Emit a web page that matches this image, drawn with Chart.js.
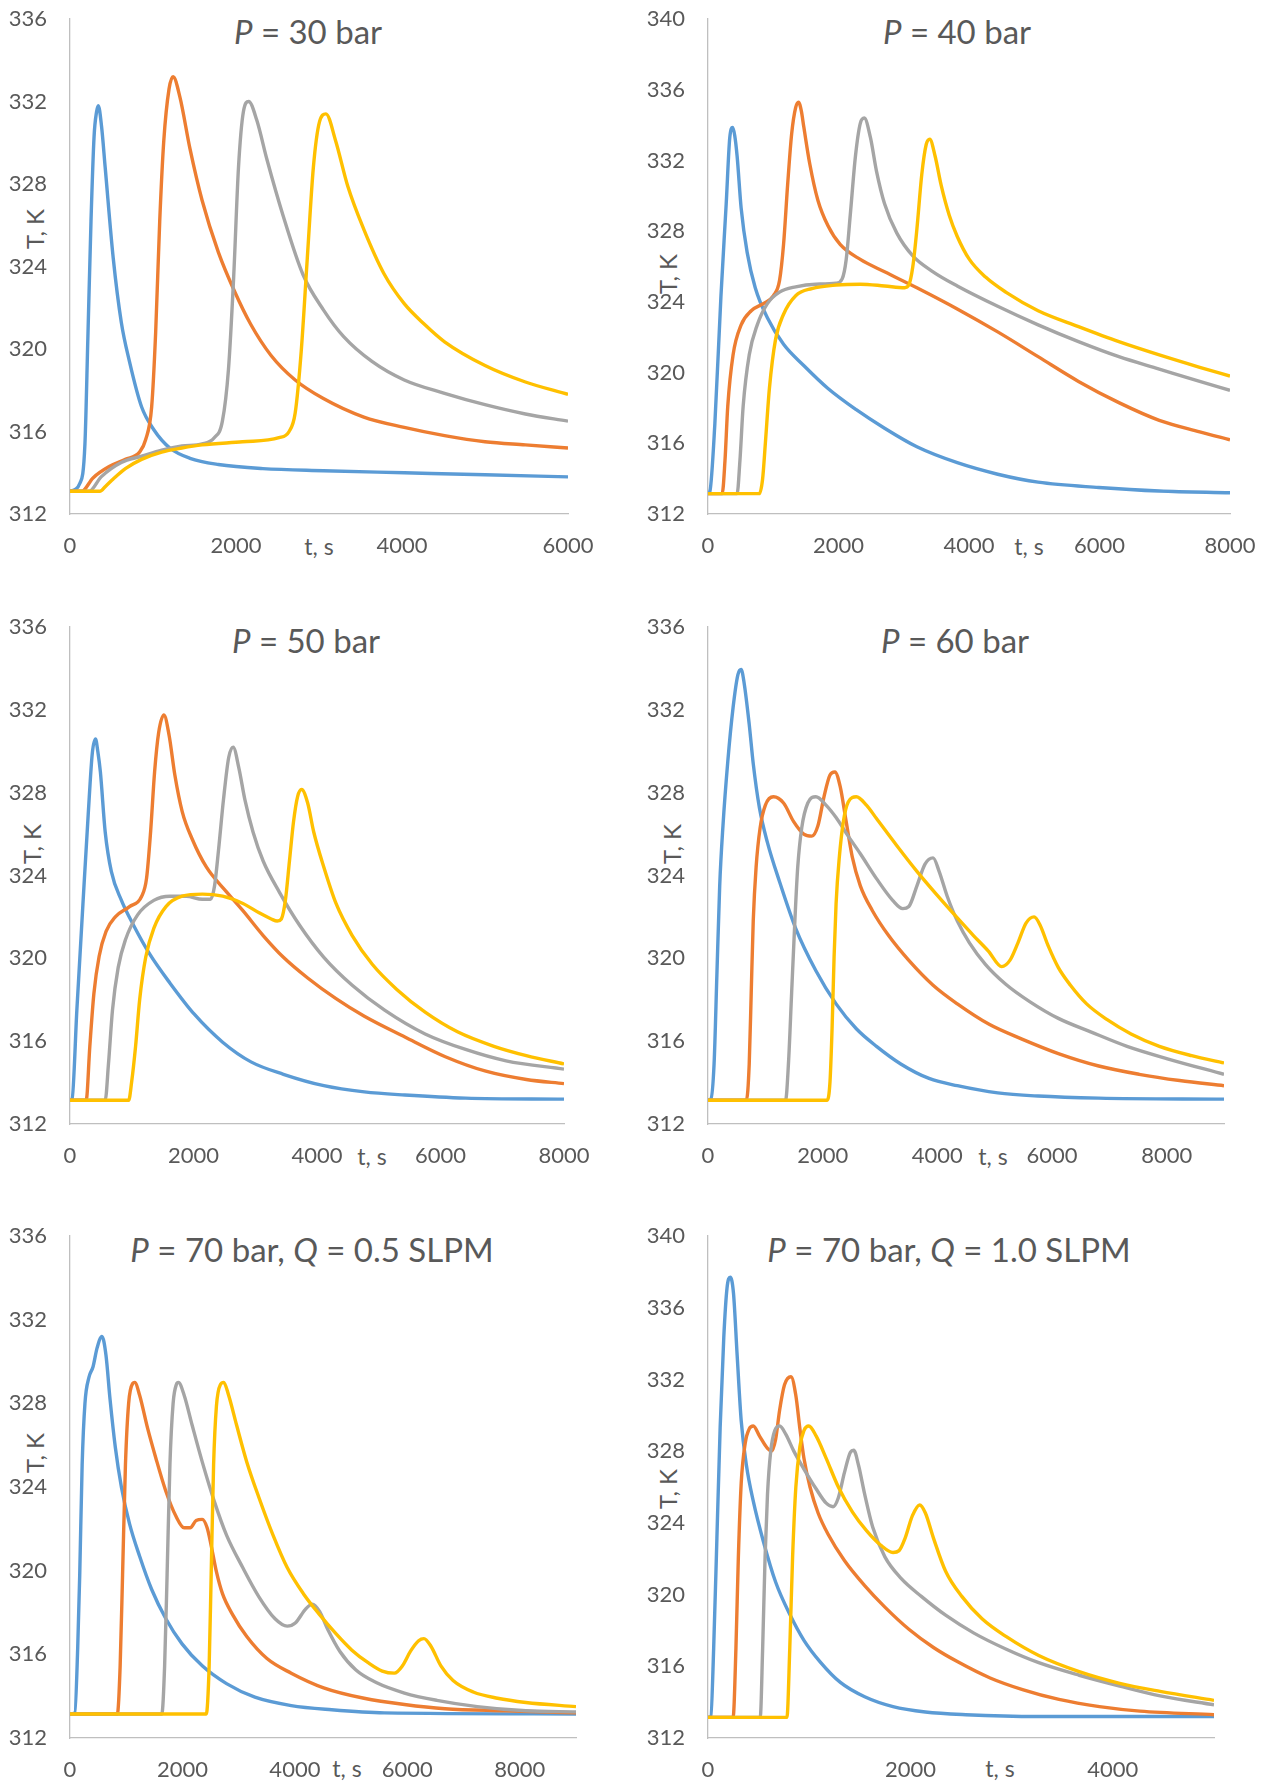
<!DOCTYPE html>
<html>
<head>
<meta charset="utf-8">
<script src="https://cdn.jsdelivr.net/npm/chart.js"></script>
<style>
  html, body { margin: 0; padding: 0; background: #fff; }
  body { width: 1268px; height: 1782px; position: relative; overflow: hidden;
         font-family: Lato, "Open Sans", sans-serif; color: #595959; }
  canvas { position: absolute; }
  .title { position: absolute; transform: translate(-50%, -50%); font-size: 33px; white-space: nowrap; }
  .xlab  { position: absolute; transform: translate(-50%, -50%); font-size: 23px; white-space: nowrap; }
  .ylab  { position: absolute; transform: translate(-50%, -50%) rotate(-90deg); font-size: 24px; white-space: nowrap; }
</style>
</head>
<body>

<div class="title" style="left:308px;top:31px"><i>P</i> = 30 bar</div>
<div class="title" style="left:957px;top:31px"><i>P</i> = 40 bar</div>
<div class="title" style="left:306px;top:640px"><i>P</i> = 50 bar</div>
<div class="title" style="left:955px;top:640px"><i>P</i> = 60 bar</div>
<div class="title" style="left:312px;top:1249px"><i>P</i> = 70 bar, <i>Q</i> = 0.5 SLPM</div>
<div class="title" style="left:949px;top:1249px"><i>P</i> = 70 bar, <i>Q</i> = 1.0 SLPM</div>

<div class="xlab" style="left:319px;top:546px">t, s</div>
<div class="xlab" style="left:1029px;top:546px">t, s</div>
<div class="xlab" style="left:372px;top:1156px">t, s</div>
<div class="xlab" style="left:993px;top:1156px">t, s</div>
<div class="xlab" style="left:347px;top:1768px">t, s</div>
<div class="xlab" style="left:1000px;top:1768px">t, s</div>

<div class="ylab" style="left:34px;top:229px">T, K</div>
<div class="ylab" style="left:667px;top:274px">T, K</div>
<div class="ylab" style="left:31px;top:844px">T, K</div>
<div class="ylab" style="left:671px;top:844px">T, K</div>
<div class="ylab" style="left:34px;top:1453px">T, K</div>
<div class="ylab" style="left:667px;top:1489px">T, K</div>

<script>
// Temperature histories, [time s, temperature K], four beds per pressure case.

// P = 30 bar
const p30Blue = [[0,313.1],[120,313.5],[180,315.4],[215,320.5],[253,326.2],[290,330.3],[320,331.5],[341,331.8],[380,330.8],[424,328.8],[521,324.4],[618,321.3],[716,319.4],[862,317.2],[1008,316.1],[1203,315.2],[1446,314.7],[1787,314.4],[2323,314.2],[3053,314.1],[4027,314.0],[5000,313.9],[6000,313.8]];
const p30Orange = [[0,313.1],[140,313.1],[277,313.75],[472,314.3],[667,314.65],[838,315.0],[911,315.6],[984,317.2],[1032,320.8],[1081,326.2],[1130,330.1],[1193,332.6],[1242,333.2],[1325,332.2],[1446,329.7],[1592,327.2],[1787,324.7],[1982,322.8],[2177,321.2],[2420,319.7],[2713,318.5],[3053,317.6],[3540,316.7],[4027,316.2],[4513,315.8],[5000,315.5],[5487,315.35],[6000,315.2]];
const p30Gray = [[0,313.1],[230,313.1],[375,313.8],[618,314.5],[862,314.8],[1105,315.1],[1349,315.3],[1592,315.4],[1738,315.7],[1836,316.5],[1909,319.0],[1972,323.5],[2030,328.8],[2089,331.5],[2153,332.0],[2250,331.1],[2372,329.2],[2565,326.5],[2808,323.6],[3053,321.9],[3297,320.6],[3638,319.4],[4027,318.5],[4513,317.85],[5000,317.3],[5487,316.85],[6000,316.5]];
const p30Yellow = [[0,313.1],[360,313.1],[430,313.35],[521,313.7],[667,314.2],[862,314.65],[1105,315.0],[1349,315.2],[1592,315.35],[2080,315.5],[2518,315.7],[2640,316.0],[2713,316.9],[2786,319.9],[2859,324.4],[2932,328.8],[3005,331.0],[3083,331.4],[3200,330.1],[3346,327.9],[3540,325.8],[3783,323.65],[4027,322.2],[4270,321.2],[4513,320.35],[5000,319.2],[5487,318.4],[6000,317.8]];

// P = 40 bar
const p40Blue = [[0,313.15],[30,313.3],[105,317.1],[198,324.3],[279,329.55],[334,333.3],[378,333.86],[410,333.4],[446,332.25],[508,329.3],[600,326.8],[724,324.8],[910,323.1],[1158,321.6],[1467,320.4],[1839,319.1],[2272,317.9],[2706,316.85],[3201,315.8],[3820,314.9],[4440,314.25],[5059,313.8],[5988,313.5],[6916,313.3],[8000,313.2]];
const p40Orange = [[0,313.15],[217,313.15],[260,315.0],[303,318.1],[384,321.0],[508,322.7],[663,323.5],[848,323.9],[1003,324.35],[1096,325.2],[1158,327.25],[1220,330.6],[1282,333.5],[1344,335.0],[1387,335.3],[1430,334.8],[1468,333.9],[1560,331.8],[1684,329.75],[1839,328.3],[2025,327.25],[2334,326.4],[2706,325.7],[3201,324.8],[3820,323.6],[4440,322.3],[5059,320.9],[5678,319.5],[6297,318.3],[6916,317.3],[7536,316.65],[8000,316.2]];
const p40Gray = [[0,313.15],[446,313.15],[489,315.0],[539,318.1],[632,321.0],[755,322.7],[910,323.9],[1096,324.55],[1344,324.85],[1653,325.0],[1963,325.05],[2056,325.3],[2118,326.4],[2180,328.9],[2260,332.25],[2334,334.1],[2396,334.4],[2489,333.3],[2582,331.4],[2706,329.55],[2892,327.9],[3139,326.6],[3449,325.7],[3820,324.9],[4440,323.75],[5059,322.7],[5678,321.75],[6297,320.9],[6916,320.2],[7536,319.5],[8000,319.0]];
const p40Yellow = [[0,313.15],[786,313.15],[836,313.95],[879,316.0],[941,319.1],[1034,321.85],[1158,323.3],[1344,324.35],[1591,324.75],[1963,324.95],[2334,325.0],[2706,324.9],[3015,324.8],[3077,324.95],[3139,326.0],[3201,328.1],[3276,331.2],[3344,332.9],[3399,333.2],[3480,332.25],[3573,330.6],[3697,328.9],[3820,327.7],[4006,326.4],[4254,325.4],[4563,324.55],[5059,323.5],[5678,322.6],[6297,321.75],[6916,321.0],[7536,320.3],[8000,319.8]];

// P = 50 bar
const p50Blue = [[0,313.15],[33,313.2],[111,317.5],[210,322.65],[295,326.95],[361,329.9],[413,330.6],[450,330.0],[492,329.0],[570,326.1],[669,324.2],[833,322.8],[1029,321.6],[1292,320.2],[1620,318.8],[2013,317.3],[2472,315.95],[2931,315.0],[3456,314.4],[4111,313.85],[4767,313.55],[5423,313.4],[6406,313.25],[8000,313.2]];
const p50Orange = [[0,313.15],[262,313.15],[321,315.75],[387,318.3],[472,320.1],[584,321.3],[734,322.0],[964,322.5],[1161,323.0],[1239,323.85],[1305,326.1],[1370,329.0],[1436,330.9],[1521,331.75],[1606,330.75],[1698,328.85],[1816,327.1],[1980,325.75],[2210,324.4],[2538,323.2],[2800,322.3],[3128,321.1],[3456,320.05],[3849,319.05],[4308,318.05],[4767,317.2],[5423,316.2],[6078,315.25],[6734,314.55],[7390,314.15],[8000,313.95]];
const p50Gray = [[0,313.15],[570,313.15],[623,314.9],[688,317.5],[780,319.55],[898,320.9],[1095,322.1],[1357,322.8],[1620,323.0],[1882,323.0],[2144,322.85],[2275,322.85],[2341,323.5],[2406,325.25],[2485,327.65],[2570,329.7],[2642,330.2],[2734,329.2],[2833,327.65],[2964,326.1],[3128,324.7],[3390,323.2],[3718,321.6],[4111,320.05],[4570,318.7],[5095,317.5],[5751,316.35],[6406,315.6],[7062,315.05],[8000,314.65]];
const p50Yellow = [[0,313.15],[951,313.15],[997,314.0],[1062,315.75],[1128,318.0],[1226,320.05],[1357,321.45],[1554,322.5],[1816,323.0],[2144,323.1],[2472,323.0],[2800,322.65],[3062,322.2],[3259,321.9],[3357,321.8],[3423,321.9],[3488,322.8],[3554,324.7],[3620,326.6],[3685,327.8],[3751,328.15],[3849,327.5],[3947,326.1],[4111,324.4],[4308,322.65],[4570,321.1],[4898,319.7],[5292,318.5],[5751,317.4],[6275,316.45],[6865,315.75],[7390,315.3],[8000,314.9]];

// P = 60 bar
const p60Blue = [[0,313.15],[49,313.2],[106,314.9],[155,319.2],[204,323.5],[261,326.4],[345,329.5],[437,332.1],[522,333.7],[578,333.95],[630,333.3],[719,331.3],[789,329.4],[895,327.3],[1036,325.6],[1248,323.7],[1529,321.45],[1882,319.4],[2234,317.8],[2587,316.6],[2939,315.75],[3362,314.9],[3855,314.2],[4349,313.85],[5054,313.5],[5758,313.35],[6815,313.25],[9000,313.2]];
const p60Orange = [[0,313.15],[670,313.15],[719,314.9],[754,318.35],[789,321.8],[839,324.4],[909,326.3],[1001,327.4],[1142,327.8],[1318,327.5],[1494,326.6],[1670,326.0],[1811,325.9],[1917,326.4],[2023,327.8],[2128,328.85],[2213,329.0],[2305,328.3],[2410,326.6],[2516,324.9],[2657,323.5],[2868,322.3],[3150,321.1],[3503,319.9],[3926,318.7],[4349,317.8],[4912,316.8],[5476,316.1],[6111,315.4],[6815,314.8],[7520,314.4],[8225,314.1],[9000,313.85]];
const p60Gray = [[0,313.15],[1353,313.15],[1403,314.9],[1459,318.35],[1515,321.8],[1565,324.4],[1635,326.3],[1741,327.5],[1882,327.8],[2058,327.4],[2234,326.8],[2446,325.9],[2657,325.05],[2939,323.85],[3221,322.8],[3397,322.4],[3503,322.5],[3644,323.5],[3785,324.55],[3926,324.85],[4031,324.2],[4172,323.0],[4349,321.8],[4560,320.75],[4842,319.7],[5194,318.75],[5617,317.9],[6111,317.1],[6674,316.45],[7309,315.75],[8014,315.15],[9000,314.4]];
const p60Yellow = [[0,313.15],[2079,313.15],[2128,314.05],[2164,316.6],[2199,320.05],[2234,322.65],[2291,324.9],[2361,326.6],[2446,327.55],[2587,327.8],[2763,327.4],[2939,326.75],[3291,325.45],[3644,324.2],[3996,323.05],[4349,321.95],[4630,321.1],[4890,320.35],[5124,319.6],[5265,319.9],[5406,320.75],[5547,321.7],[5688,322.0],[5793,321.6],[5934,320.6],[6111,319.55],[6322,318.7],[6604,317.8],[6956,317.05],[7379,316.35],[7873,315.75],[8436,315.3],[9000,314.95]];

// P = 70 bar, Q = 0.5 SLPM
const q05Blue = [[0,313.15],[86,313.2],[137,316.3],[173,319.8],[216,325.05],[266,328.0],[338,329.25],[410,329.75],[482,330.65],[568,331.2],[640,330.3],[712,328.2],[806,325.9],[914,324.0],[1058,322.25],[1237,320.7],[1453,319.1],[1705,317.7],[1993,316.5],[2352,315.45],[2784,314.6],[3288,313.95],[3935,313.55],[4654,313.35],[5590,313.2],[9000,313.15]];
const q05Orange = [[0,313.15],[842,313.15],[892,315.45],[935,319.8],[986,325.05],[1043,328.0],[1115,328.95],[1151,329.0],[1237,328.4],[1381,326.8],[1525,325.4],[1705,323.8],[1885,322.6],[2029,322.05],[2137,322.05],[2244,322.4],[2352,322.45],[2439,322.05],[2511,321.2],[2604,319.95],[2712,318.9],[2892,317.9],[3144,316.85],[3503,315.8],[3935,315.1],[4511,314.4],[5230,313.9],[5949,313.6],[6669,313.4],[7748,313.3],[9000,313.2]];
const q05Gray = [[0,313.15],[1633,313.15],[1683,315.45],[1727,319.8],[1777,325.05],[1834,328.0],[1892,328.9],[1928,329.0],[2029,328.4],[2173,326.95],[2352,325.2],[2568,323.3],[2784,321.7],[3072,320.15],[3360,318.75],[3647,317.7],[3863,317.35],[4007,317.5],[4187,318.15],[4309,318.4],[4439,318.05],[4583,317.2],[4798,316.15],[5086,315.25],[5446,314.65],[5949,314.15],[6525,313.8],[7244,313.5],[8108,313.3],[9000,313.25]];
const q05Yellow = [[0,313.15],[2424,313.15],[2475,315.45],[2511,319.8],[2554,325.05],[2604,327.85],[2676,328.9],[2734,329.0],[2820,328.4],[2964,326.95],[3144,325.2],[3360,323.5],[3611,321.7],[3863,320.15],[4151,318.9],[4439,317.9],[4726,317.0],[5014,316.2],[5302,315.6],[5554,315.2],[5770,315.1],[5913,315.45],[6057,316.15],[6201,316.65],[6295,316.75],[6417,316.4],[6597,315.45],[6813,314.75],[7172,314.2],[7604,313.9],[8108,313.7],[9000,313.5]];

// P = 70 bar, Q = 1.0 SLPM
const q10Blue = [[0,313.15],[28,313.2],[56,317.0],[88,323.15],[120,329.3],[156,334.35],[188,337.1],[220,337.7],[252,336.8],[288,333.35],[328,329.7],[380,327.2],[448,325.2],[548,322.95],[668,320.7],[808,318.9],[948,317.45],[1108,316.25],[1308,315.1],[1548,314.3],[1828,313.75],[2148,313.45],[2548,313.3],[3268,313.2],[5000,313.2]];
const q10Orange = [[0,313.15],[248,313.15],[276,317.0],[300,322.1],[328,326.2],[368,328.45],[408,329.25],[448,329.4],[508,328.85],[588,328.15],[628,328.0],[668,328.65],[708,330.3],[756,331.7],[820,332.15],[868,331.1],[908,329.25],[948,327.6],[1008,326.0],[1088,324.55],[1188,323.35],[1348,321.9],[1548,320.5],[1748,319.3],[1988,318.05],[2228,317.05],[2468,316.25],[2788,315.35],[3108,314.7],[3468,314.15],[3868,313.75],[4268,313.5],[5000,313.3]];
const q10Gray = [[0,313.15],[516,313.15],[540,317.0],[564,322.1],[588,325.6],[620,328.0],[660,329.15],[708,329.4],[768,328.95],[848,328.0],[948,327.0],[1068,325.9],[1168,325.1],[1236,324.9],[1288,325.4],[1348,326.8],[1408,327.95],[1440,328.05],[1488,327.2],[1548,325.6],[1628,323.75],[1748,322.1],[1908,320.9],[2108,319.9],[2348,318.85],[2628,317.85],[2948,316.95],[3268,316.2],[3668,315.5],[4068,314.9],[4468,314.35],[5000,313.85]];
const q10Yellow = [[0,313.15],[780,313.15],[808,317.0],[836,322.1],[868,326.0],[908,328.25],[948,329.15],[996,329.4],[1068,328.85],[1168,327.6],[1288,326.0],[1428,324.6],[1568,323.55],[1708,322.75],[1828,322.35],[1888,322.45],[1948,323.15],[2020,324.4],[2092,325.0],[2148,324.55],[2228,323.15],[2348,321.3],[2508,319.9],[2708,318.65],[2948,317.65],[3268,316.6],[3668,315.7],[4068,315.05],[4468,314.6],[5000,314.1]];

// Axis ticks
const xTicksTo6000 = [0, 2000, 4000, 6000];
const xTicksTo8000 = [0, 2000, 4000, 6000, 8000];
const xTicksTo4000 = [0, 2000, 4000];
const yTicksTo336 = [312, 316, 320, 324, 328, 332, 336];
const yTicksTo340 = [312, 316, 320, 324, 328, 332, 336, 340];

const lineColors = ['#5B9BD5', '#ED7D31', '#A5A5A5', '#FFC000'];
const tickFont = { family: 'Lato', size: 22 };

// plot-area rectangles [left, top, right, bottom] in page pixels
const panels = [
  { box: [70, 19, 568, 514],     xMax: 6000, yMax: 336, xTicks: xTicksTo6000, yTicks: yTicksTo336, series: [p30Blue, p30Orange, p30Gray, p30Yellow] },
  { box: [708, 19, 1230, 514],   xMax: 8000, yMax: 340, xTicks: xTicksTo8000, yTicks: yTicksTo340, series: [p40Blue, p40Orange, p40Gray, p40Yellow] },
  { box: [70, 627, 564, 1124],   xMax: 8000, yMax: 336, xTicks: xTicksTo8000, yTicks: yTicksTo336, series: [p50Blue, p50Orange, p50Gray, p50Yellow] },
  { box: [708, 627, 1224, 1124], xMax: 9000, yMax: 336, xTicks: xTicksTo8000, yTicks: yTicksTo336, series: [p60Blue, p60Orange, p60Gray, p60Yellow] },
  { box: [70, 1236, 576, 1738],  xMax: 9000, yMax: 336, xTicks: xTicksTo8000, yTicks: yTicksTo336, series: [q05Blue, q05Orange, q05Gray, q05Yellow] },
  { box: [708, 1236, 1214, 1738],xMax: 5000, yMax: 340, xTicks: xTicksTo4000, yTicks: yTicksTo340, series: [q10Blue, q10Orange, q10Gray, q10Yellow] }
];

const PAD_LEFT = 70, PAD_TOP = 19, PAD_RIGHT = 34, PAD_BOTTOM = 50;

// keep the plot area fixed: labels may overhang into the surrounding margin
function noEdgePadding(s) {
  s.paddingTop = 0; s.paddingBottom = 0; s.paddingLeft = 0; s.paddingRight = 0;
}

panels.forEach(function (cfg) {
  const [L, T, R, B] = cfg.box;
  const canvas = document.createElement('canvas');
  canvas.width = (R - L) + PAD_LEFT + PAD_RIGHT;
  canvas.height = (B - T) + PAD_TOP + PAD_BOTTOM;
  canvas.style.left = (L - PAD_LEFT) + 'px';
  canvas.style.top = (T - PAD_TOP) + 'px';
  document.body.appendChild(canvas);

  new Chart(canvas, {
    type: 'line',
    data: {
      datasets: cfg.series.map(function (s, i) {
        return {
          data: s.map(function (p) { return { x: p[0], y: p[1] }; }),
          borderColor: lineColors[i],
          borderWidth: 3.4,
          pointRadius: 0,
          fill: false,
          cubicInterpolationMode: 'monotone',
          order: 4 - i
        };
      })
    },
    options: {
      responsive: false,
      animation: false,
      devicePixelRatio: 1,
      layout: { padding: { left: 0, top: PAD_TOP, right: PAD_RIGHT, bottom: 0 } },
      plugins: { legend: { display: false }, tooltip: { enabled: false }, title: { display: false } },
      scales: {
        x: {
          type: 'linear', min: 0, max: cfg.xMax,
          grid: { display: false, drawTicks: false },
          border: { display: true, color: '#bfbfbf', width: 1.3 },
          ticks: { padding: 19, font: tickFont, color: '#595959', maxRotation: 0, autoSkip: false,
                   callback: function (v) { return String(v); } },
          afterBuildTicks: function (s) { s.ticks = cfg.xTicks.map(function (v) { return { value: v }; }); },
          afterFit: function (s) { s.height = PAD_BOTTOM; noEdgePadding(s); }
        },
        y: {
          type: 'linear', min: 312, max: cfg.yMax,
          grid: { display: false, drawTicks: false },
          border: { display: true, color: '#bfbfbf', width: 1.3 },
          ticks: { padding: 23, font: tickFont, color: '#595959', autoSkip: false,
                   callback: function (v) { return String(v); } },
          afterBuildTicks: function (s) { s.ticks = cfg.yTicks.map(function (v) { return { value: v }; }); },
          afterFit: function (s) { s.width = PAD_LEFT; noEdgePadding(s); }
        }
      }
    }
  });
});
</script>
</body>
</html>
